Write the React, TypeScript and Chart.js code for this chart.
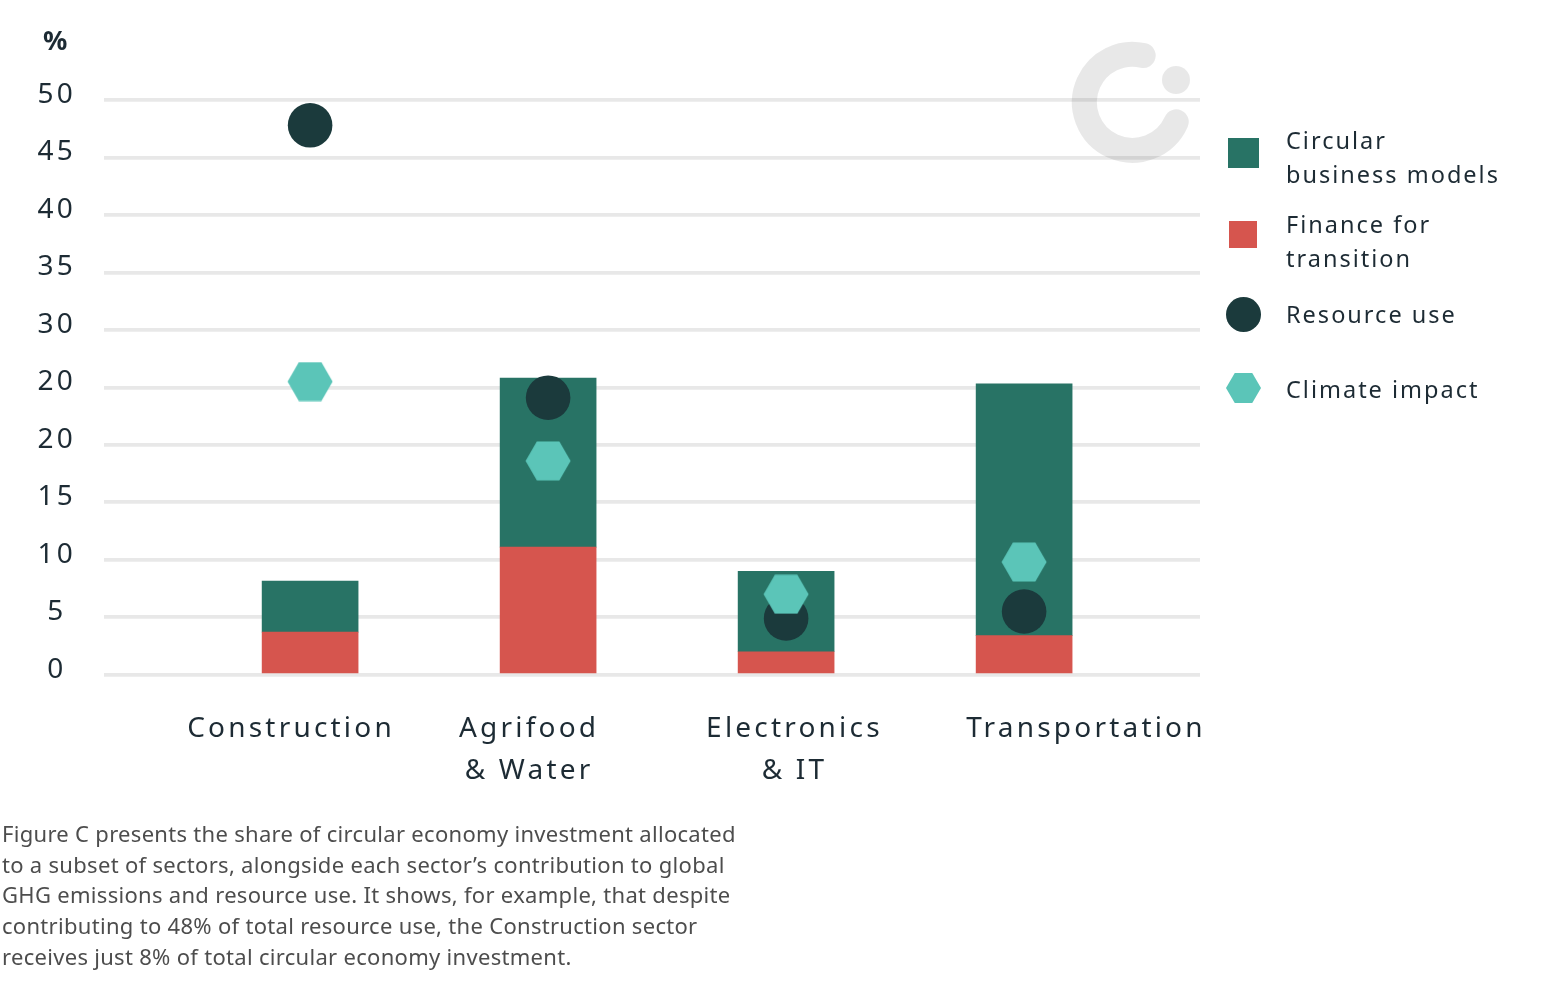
import React, { useEffect, useRef } from 'react';
import { Chart, registerables } from 'chart.js';

Chart.register(...registerables);

// ---------- data ----------
const CATEGORIES: string[][] = [['Construction'], ['Agrifood', '& Water'], ['Electronics', '& IT'], ['Transportation']];
const FINANCE_FOR_TRANSITION = [3.7, 11.1, 2.0, 3.4];
const CIRCULAR_BUSINESS_MODELS = [4.45, 14.7, 7.0, 21.9];
const RESOURCE_USE = [47.8, 24.1, 4.9, 5.5];
const CLIMATE_IMPACT = [25.5, 18.6, 7.0, 9.8];
const Y_TICK_LABELS = ['0', '5', '10', '15', '20', '20', '30', '35', '40', '45', '50'];
const LEGEND_LABELS: string[][] = [['Circular', 'business models'], ['Finance for', 'transition'], ['Resource use'], ['Climate impact']];
const CAPTION_LINES = [
  'Figure C presents the share of circular economy investment allocated',
  'to a subset of sectors, alongside each sector\u2019s contribution to global',
  'GHG emissions and resource use. It shows, for example, that despite',
  'contributing to 48% of total resource use, the Construction sector',
  'receives just 8% of total circular economy investment.',
];

// ---------- style ----------
const GREEN = '#287365';
const RED = '#d6554e';
const DARK = '#1b3a3c';
const TEAL = '#5bc5b8';
const TEXT = '#1d2b34';
const GRID = '#e8e8e8';
const FONT = "'Noto Sans', sans-serif";
const LABEL_SHIFT = [-0.08, -0.08, 0.035, 0.26];

function makeHexagon(color: string): HTMLCanvasElement {
  const c = document.createElement('canvas');
  c.width = 46;
  c.height = 40;
  const g = c.getContext('2d')!;
  const r = 22.5;
  g.fillStyle = color;
  g.beginPath();
  for (let k = 0; k < 6; k++) {
    const a = (Math.PI / 3) * k;
    const px = 23 + r * Math.cos(a);
    const py = 20 + r * Math.sin(a);
    if (k === 0) g.moveTo(px, py);
    else g.lineTo(px, py);
  }
  g.closePath();
  g.fill();
  return c;
}

const spacingPlugin = {
  id: 'letterSpacing',
  beforeLayout(chart: any) {
    chart.ctx.letterSpacing = '3.2px';
  },
  beforeDraw(chart: any) {
    chart.ctx.letterSpacing = '3.2px';
  },
};

const logoPlugin = {
  id: 'logo',
  beforeDatasetsDraw(chart: any) {
    const { ctx, chartArea } = chart;
    const cx = chartArea.right - 67.6;
    const cy = chartArea.top + 2.3;
    ctx.save();
    ctx.strokeStyle = 'rgba(0,0,0,0.09)';
    ctx.fillStyle = 'rgba(0,0,0,0.09)';
    ctx.lineWidth = 25;
    ctx.lineCap = 'round';
    ctx.beginPath();
    ctx.arc(cx, cy, 48, (24 * Math.PI) / 180, (283 * Math.PI) / 180);
    ctx.stroke();
    ctx.beginPath();
    ctx.arc(cx + 43.6, cy - 22.3, 14, 0, Math.PI * 2);
    ctx.fill();
    ctx.restore();
  },
};

export default function App() {
  const ref = useRef<HTMLCanvasElement | null>(null);

  useEffect(() => {
    if (!ref.current) return;
    const hex = makeHexagon(TEAL);
    const toPoints = (arr: number[]) => arr.map((v, i) => ({ x: i, y: v }));
    const chart = new Chart(ref.current, {
      type: 'bar',
      data: {
        datasets: [
          {
            type: 'line',
            label: 'Climate impact',
            data: toPoints(CLIMATE_IMPACT),
            showLine: false,
            pointStyle: hex,
            pointRadius: 22,
            pointHoverRadius: 22,
            backgroundColor: TEAL,
            borderWidth: 0,
            order: 0,
            stack: 'climate',
          } as any,
          {
            type: 'line',
            label: 'Resource use',
            data: toPoints(RESOURCE_USE),
            showLine: false,
            pointStyle: 'circle',
            pointRadius: 22.3,
            pointHoverRadius: 22.3,
            backgroundColor: DARK,
            borderColor: DARK,
            borderWidth: 0,
            order: 1,
            stack: 'resource',
          } as any,
          {
            type: 'bar',
            label: 'Finance for transition',
            data: toPoints(FINANCE_FOR_TRANSITION),
            backgroundColor: RED,
            borderWidth: 0,
            barThickness: 96,
            order: 2,
            stack: 'investment',
          } as any,
          {
            type: 'bar',
            label: 'Circular business models',
            data: toPoints(CIRCULAR_BUSINESS_MODELS),
            backgroundColor: GREEN,
            borderWidth: 0,
            barThickness: 96,
            order: 3,
            stack: 'investment',
          } as any,
        ],
      },
      options: {
        animation: false,
        responsive: false,
        events: [],
        layout: { padding: { left: 0, top: 100, right: 368, bottom: 0 } },
        plugins: { legend: { display: false }, tooltip: { enabled: false } },
        scales: {
          x: {
            type: 'linear',
            offset: false,
            stacked: true,
            min: -0.866,
            max: 3.739,
            grid: { display: false, drawTicks: false, offset: false },
            border: { display: false },
            afterBuildTicks: (s: any) => {
              s.ticks = CATEGORIES.map((_, i) => ({ value: i + LABEL_SHIFT[i] }));
            },
            afterFit: (s: any) => {
              s.height = 311.3;
            },
            ticks: {
              autoSkip: false,
              maxRotation: 0,
              minRotation: 0,
              padding: 34,
              color: TEXT,
              font: { family: FONT, size: 28, lineHeight: 1.48 },
              callback: (_v: any, i: number) => CATEGORIES[i],
            },
          } as any,
          y: {
            min: 0,
            max: 50,
            stacked: true,
            afterFit: (s: any) => {
              s.width = 104;
            },
            border: { display: false },
            grid: { color: GRID, lineWidth: 3.7, drawTicks: false },
            ticks: {
              stepSize: 5,
              padding: 28,
              crossAlign: 'center',
              labelOffset: -5,
              color: TEXT,
              font: { family: FONT, size: 28 },
              callback: (_v: any, i: number) => Y_TICK_LABELS[i],
            },
          } as any,
        },
      },
      plugins: [spacingPlugin, logoPlugin],
    });
    return () => chart.destroy();
  }, []);

  const legendText: React.CSSProperties = {
    position: 'absolute',
    left: 1286,
    fontFamily: FONT,
    fontSize: 23.5,
    lineHeight: '34px',
    letterSpacing: '2px',
    color: TEXT,
    whiteSpace: 'nowrap',
  };
  const legendTops = [122.9, 206.9, 296.9, 371.9];

  return (
    <div style={{ position: 'absolute', left: 0, top: 0, width: 1568, height: 986, background: '#fff', overflow: 'hidden' }}>
      <canvas ref={ref} width={1568} height={986} style={{ position: 'absolute', left: 0, top: 0, width: 1568, height: 986 }} />
      <div style={{ position: 'absolute', left: 43, top: 26, fontFamily: FONT, fontWeight: 700, fontSize: 27, lineHeight: '27px', color: TEXT }}>%</div>

      <div style={{ position: 'absolute', left: 1228, top: 138, width: 31, height: 30, background: GREEN }} />
      <div style={{ position: 'absolute', left: 1229, top: 221, width: 28, height: 27, background: RED }} />
      <div style={{ position: 'absolute', left: 1226, top: 297, width: 35, height: 35, borderRadius: '50%', background: DARK }} />
      <div
        style={{
          position: 'absolute',
          left: 1226,
          top: 373,
          width: 35,
          height: 30,
          background: TEAL,
          clipPath: 'polygon(25% 0, 75% 0, 100% 50%, 75% 100%, 25% 100%, 0 50%)',
        }}
      />
      {LEGEND_LABELS.map((lines, i) => (
        <div key={i} style={{ ...legendText, top: legendTops[i] }}>
          {lines.map((l, j) => (
            <div key={j}>{l}</div>
          ))}
        </div>
      ))}

      <div style={{ position: 'absolute', left: 2, top: 817.8, fontFamily: FONT, fontSize: 22, lineHeight: '30.7px', letterSpacing: '0.3px', color: '#4d4d4d', whiteSpace: 'nowrap' }}>
        {CAPTION_LINES.map((l, i) => (
          <div key={i}>{l}</div>
        ))}
      </div>
    </div>
  );
}
